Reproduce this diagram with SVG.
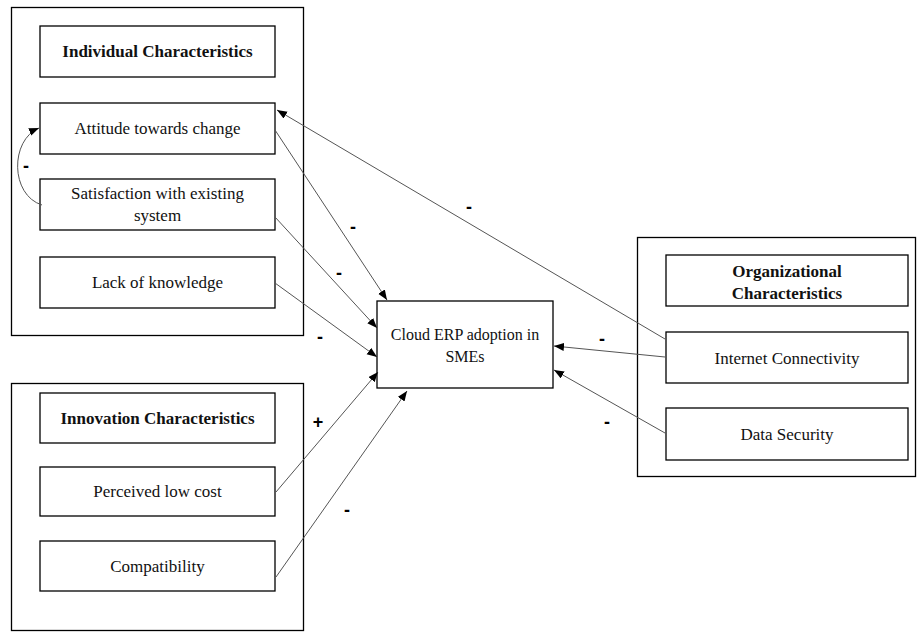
<svg xmlns="http://www.w3.org/2000/svg" width="917" height="632" viewBox="0 0 917 632">
<style>
.outer{fill:none;stroke:#000;stroke-width:1.3}
.box{fill:#fff;stroke:#000;stroke-width:1.3}
.t{font-family:"Liberation Serif","Times New Roman",serif;font-size:17px;fill:#111;text-anchor:middle}
.b{font-weight:bold}
.e{font-size:16px}
.c{fill:none;stroke:#555;stroke-width:1}
.s{font-family:"Liberation Sans",Arial,sans-serif;font-size:18px;font-weight:bold;fill:#000;text-anchor:middle}
</style>
<defs>
<marker id="ah" markerUnits="userSpaceOnUse" markerWidth="11" markerHeight="9" refX="10" refY="4" orient="auto">
<path d="M0,0 L10,4 L0,8 z" fill="#000"/>
</marker>
</defs>
<rect width="917" height="632" fill="#fff"/>
<g id="individual">
<rect class="outer" x="11.5" y="7.5" width="292" height="328"/>
<g id="ind-header"><rect class="box" x="40" y="26" width="235" height="51"/><text class="t b" x="157.5" y="57">Individual Characteristics</text></g>
<g id="attitude"><rect class="box" x="40" y="103" width="235" height="51"/><text class="t" x="157.5" y="134">Attitude towards change</text></g>
<g id="satisfaction"><rect class="box" x="40" y="179" width="235" height="51"/><text class="t" x="157.5" y="199">Satisfaction with existing</text><text class="t" x="157.5" y="221">system</text></g>
<g id="lack"><rect class="box" x="40" y="257" width="235" height="51"/><text class="t" x="157.5" y="288">Lack of knowledge</text></g>
</g>
<g id="innovation">
<rect class="outer" x="11.5" y="383.5" width="292" height="247"/>
<g id="inn-header"><rect class="box" x="40" y="393" width="235" height="50"/><text class="t b" x="157.5" y="424">Innovation Characteristics</text></g>
<g id="lowcost"><rect class="box" x="40" y="467" width="235" height="49"/><text class="t" x="157.5" y="497">Perceived low cost</text></g>
<g id="compat"><rect class="box" x="40" y="541" width="235" height="50"/><text class="t" x="157.5" y="572">Compatibility</text></g>
</g>
<g id="organizational">
<rect class="outer" x="637.5" y="237.5" width="278" height="239"/>
<g id="org-header"><rect class="box" x="666" y="255" width="242" height="51"/><text class="t b" x="787" y="277">Organizational</text><text class="t b" x="787" y="299">Characteristics</text></g>
<g id="internet"><rect class="box" x="666" y="332" width="242" height="51"/><text class="t" x="787" y="364">Internet Connectivity</text></g>
<g id="datasec"><rect class="box" x="666" y="408" width="242" height="52"/><text class="t" x="787" y="440">Data Security</text></g>
</g>
<g id="erp"><rect class="box" x="377" y="301" width="176" height="87"/><text class="t e" x="465" y="340">Cloud ERP adoption in</text><text class="t e" x="465" y="362">SMEs</text></g>
<g id="connectors">
<path class="c" d="M275,130 L387,300" marker-end="url(#ah)"/>
<path class="c" d="M275,217 L377,328" marker-end="url(#ah)"/>
<path class="c" d="M275,283 L377,357" marker-end="url(#ah)"/>
<path class="c" d="M276,492 L378,372" marker-end="url(#ah)"/>
<path class="c" d="M276,577 L407,391" marker-end="url(#ah)"/>
<path class="c" d="M665,339 L277,110" marker-end="url(#ah)"/>
<path class="c" d="M665,357 L554,346" marker-end="url(#ah)"/>
<path class="c" d="M665,433 L554,370" marker-end="url(#ah)"/>
<path class="c" d="M42,205 C10,195 10,140 39,128" marker-end="url(#ah)"/>
<text class="s" x="469" y="213">-</text>
<text class="s" x="353" y="233">-</text>
<text class="s" x="339" y="279">-</text>
<text class="s" x="320" y="343">-</text>
<text class="s" x="602" y="345">-</text>
<text class="s" x="607" y="428">-</text>
<text class="s" x="318" y="428">+</text>
<text class="s" x="347" y="516">-</text>
<text class="s" x="26" y="172">-</text>
</g>
</svg>
